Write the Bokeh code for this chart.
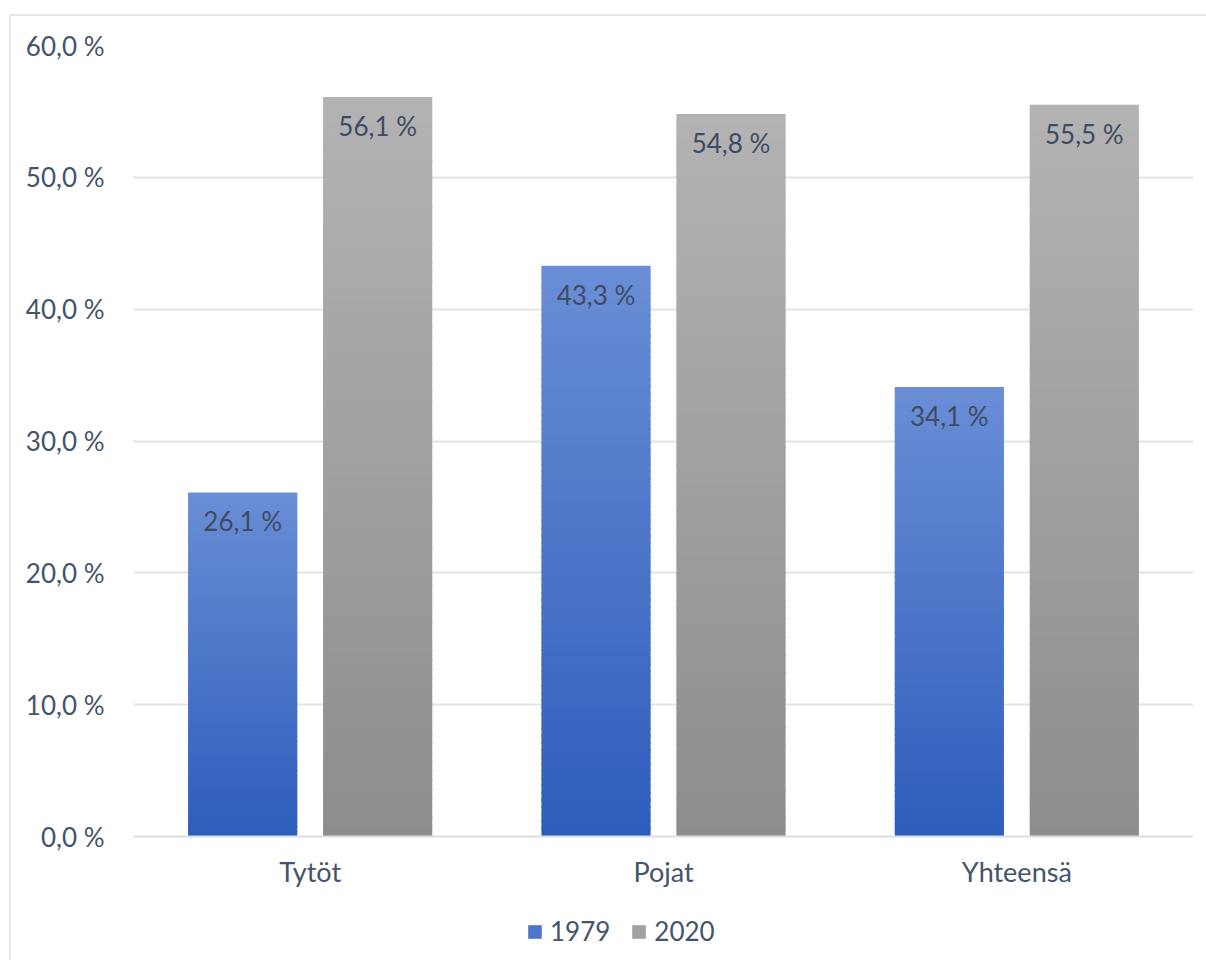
from bokeh.plotting import figure
from bokeh.models import Range1d, FixedTicker, Legend, LegendItem, ColumnDataSource
from bokeh.embed import file_html
from bokeh.resources import INLINE
from bokeh.core.properties import value

categories = ["Tytöt", "Pojat", "Yhteensä"]
series_names = ["1979", "2020"]
values_1979 = [26.1, 43.3, 34.1]
values_2020 = [56.1, 54.8, 55.5]
y_ticks = [0, 10, 20, 30, 40, 50, 60]

TEXT = "#44546a"
FONT = "Lato"
GRID = "#e1e4ea"
FS = "26px"

# the frame extends below zero to leave room for category labels and the legend
Y_MIN, Y_MAX = -9.25, 60

def hex2rgb(h):
    h = h.lstrip("#")
    return tuple(int(h[i:i + 2], 16) for i in (0, 2, 4))

def lerp(c1, c2, t):
    a, b = hex2rgb(c1), hex2rgb(c2)
    return "#%02x%02x%02x" % tuple(round(a[i] + (b[i] - a[i]) * t) for i in range(3))

p = figure(width=1197, height=946, output_backend="svg", toolbar_location=None,
           x_range=Range1d(0, 3), y_range=Range1d(Y_MIN, Y_MAX),
           min_border_left=122, min_border_right=15, min_border_top=29, min_border_bottom=4)
p.margin = (14, 0, 0, 9)
p.styles = {"border-top": "2px solid #e4e7ed", "border-left": "2px solid #e4e7ed"}
p.outline_line_color = None
p.background_fill_color = "white"
p.border_fill_color = "white"

# gradient bars built from slices
N = 80
bar_w = 0.309
offsets = [-0.191, 0.191]
grads = [("#2d5dbb", "#6a8ed6"), ("#8d8d8d", "#b3b3b3")]
bar_renderers = []
for vals, off, (bot_c, top_c) in zip([values_1979, values_2020], offsets, grads):
    L, R, B, T, C = [], [], [], [], []
    for i, v in enumerate(vals):
        xc = i + 0.5 + off
        for k in range(N):
            L.append(xc - bar_w / 2)
            R.append(xc + bar_w / 2)
            B.append(v * k / N)
            T.append(min(v, v * (k + 1) / N + 0.15))
            C.append(lerp(bot_c, top_c, (k + 0.5) / N))
    src = ColumnDataSource(dict(left=L, right=R, bottom=B, top=T, color=C))
    r = p.quad(left="left", right="right", bottom="bottom", top="top", source=src,
               fill_color="color", line_color=None)
    bar_renderers.append(r)

# baseline (category axis line)
p.segment(x0=[0], x1=[3], y0=[0], y1=[0], line_color="#d9dde4", line_width=2)

# data labels
lx, ly, lt = [], [], []
for vals, off in zip([values_1979, values_2020], offsets):
    for i, v in enumerate(vals):
        lx.append(i + 0.5 + off)
        ly.append(v)
        lt.append(f"{v:.1f}".replace(".", ",") + " %")
p.text(x=lx, y=ly, text=lt, text_align="center", text_baseline="top", y_offset=13,
       text_font=value(FONT), text_font_size=FS, text_color="#3d4c63")

# category labels
xt = [i + 0.5 for i in range(len(categories))]
p.text(x=xt, y=[0] * len(xt), text=categories, text_align="center", text_baseline="top",
       y_offset=18, text_font=value(FONT), text_font_size="27px", text_color=TEXT)

# axes
p.xaxis.visible = False
p.yaxis.ticker = FixedTicker(ticks=y_ticks)
p.yaxis.major_label_overrides = {t: f"{t:.1f}".replace(".", ",") + " %" for t in y_ticks}
p.yaxis.axis_line_color = None
p.yaxis.major_tick_line_color = None
p.yaxis.minor_tick_line_color = None
p.yaxis.major_label_standoff = 23
p.yaxis.major_label_text_font = FONT
p.yaxis.major_label_text_font_size = FS
p.yaxis.major_label_text_color = TEXT

p.xgrid.visible = False
p.ygrid.ticker = FixedTicker(ticks=y_ticks[1:])
p.ygrid.grid_line_color = GRID
p.ygrid.grid_line_width = 2

# legend (below the category labels, inside the extended frame)
legend = Legend(items=[LegendItem(label=series_names[0], renderers=[bar_renderers[0]], index=N // 2),
                       LegendItem(label=series_names[1], renderers=[bar_renderers[1]], index=N // 2)],
                orientation="horizontal", location=(393, 11),
                glyph_width=17, glyph_height=17, label_standoff=7, spacing=20,
                label_text_font=FONT, label_text_font_size=FS, label_text_color=TEXT,
                border_line_color=None, background_fill_alpha=0, padding=0, margin=0)
p.add_layout(legend, "center")

open("out.html", "w").write(file_html(p, INLINE))
